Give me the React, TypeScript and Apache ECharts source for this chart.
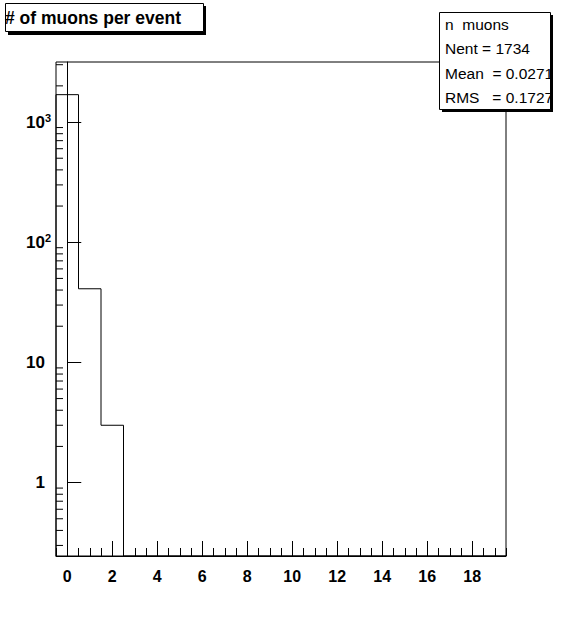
import React, { useEffect, useRef } from "react";
import * as echarts from "echarts";

// ---- data ----
const BIN_CENTERS = [0, 1, 2, 3, 4, 5, 6, 7, 8, 9, 10, 11, 12, 13, 14, 15, 16, 17, 18, 19];
const COUNTS = [1690, 41, 3, 0, 0, 0, 0, 0, 0, 0, 0, 0, 0, 0, 0, 0, 0, 0, 0, 0];
const X_LABELS = [0, 2, 4, 6, 8, 10, 12, 14, 16, 18];
const Y_MINOR_TICKS = [
  0.3, 0.4, 0.5, 0.6, 0.7, 0.8, 0.9,
  2, 3, 4, 5, 6, 7, 8, 9,
  20, 30, 40, 50, 60, 70, 80, 90,
  200, 300, 400, 500, 600, 700, 800, 900,
  2000, 3000,
];
const TITLE = "# of muons per event";
const HIST_NAME = "n  muons";
const N_ENT = "1734";
const MEAN = "0.0271";
const RMS = "0.1727";

const X_MIN = -0.5;
const X_MAX = 19.5;
const Y_MIN = 0.245;
const Y_MAX = 3160;

const FONT = "'Liberation Sans', Arial, Helvetica, sans-serif";
const NB = "\u00a0";

function stepPoints(): number[][] {
  const pts: number[][] = [[X_MIN, Y_MIN]];
  BIN_CENTERS.forEach((c, i) => {
    const v = Math.max(COUNTS[i], Y_MIN);
    pts.push([c - 0.5, v], [c + 0.5, v]);
  });
  pts.push([X_MAX, Y_MIN]);
  return pts;
}

export default function App() {
  const ref = useRef<HTMLDivElement>(null);
  useEffect(() => {
    if (!ref.current) return;
    const chart = echarts.init(ref.current, undefined, { renderer: "svg" });
    const statLines = [
      HIST_NAME.replace(/ /g, NB),
      `Nent = ${N_ENT}`.replace(/ /g, NB),
      `Mean  = ${MEAN}`.replace(/ /g, NB),
      `RMS   = ${RMS}`.replace(/ /g, NB),
    ];
    const statY = [24, 48, 73, 97];
    chart.setOption({
      animation: false,
      backgroundColor: "#fff",
      grid: {
        left: 56,
        top: 62,
        width: 450,
        height: 494,
        show: true,
        borderColor: "#000",
        borderWidth: 1,
        backgroundColor: "transparent",
      },
      xAxis: [
        {
          type: "value",
          min: X_MIN,
          max: X_MAX,
          position: "bottom",
          axisLine: { show: true, lineStyle: { color: "#000", width: 1 } },
          axisTick: { show: true, inside: true, length: 15, customValues: X_LABELS, lineStyle: { color: "#000" } },
          axisLabel: {
            customValues: X_LABELS,
            color: "#000",
            fontFamily: FONT,
            fontWeight: "bold",
            fontSize: 16,
            margin: 12,
          },
          splitLine: { show: false },
        },
        {
          type: "value",
          min: X_MIN,
          max: X_MAX,
          interval: 0.5,
          position: "bottom",
          axisLine: { show: false },
          axisTick: { show: true, inside: true, length: 8, lineStyle: { color: "#000" } },
          axisLabel: { show: false },
          splitLine: { show: false },
        },
      ],
      yAxis: {
        type: "log",
        logBase: 10,
        min: Y_MIN,
        max: Y_MAX,
        axisLine: { show: true, lineStyle: { color: "#000", width: 1 } },
        axisTick: { show: true, inside: true, length: 14, lineStyle: { color: "#000" } },
        axisLabel: {
          showMinLabel: false,
          showMaxLabel: false,
          margin: 5,
          color: "#000",
          formatter: (v: number) => {
            const e = Math.round(Math.log10(v));
            if (e <= 1) return `{p|${e === 0 ? "1" : "10"}}`;
            return `{n|10}{s|${e}}`;
          },
          rich: {
            n: { fontFamily: FONT, fontWeight: "bold", fontSize: 17, color: "#000", lineHeight: 20 },
            p: { fontFamily: FONT, fontWeight: "bold", fontSize: 17, color: "#000", lineHeight: 20, padding: [0, 6, 0, 0] },
            s: { fontFamily: FONT, fontWeight: "bold", fontSize: 11, color: "#000", verticalAlign: "top", lineHeight: 12 },
          },
        },
        splitLine: { show: false },
      },
      series: [
        {
          type: "line",
          xAxisIndex: 0,
          data: stepPoints(),
          symbol: "none",
          lineStyle: { color: "#000", width: 1 },
          silent: true,
        },
        {
          type: "custom",
          coordinateSystem: "cartesian2d",
          xAxisIndex: 0,
          yAxisIndex: 0,
          silent: true,
          clip: false,
          data: Y_MINOR_TICKS.map((v) => [X_MIN, v]),
          renderItem: (params: any, api: any) => {
            const p = api.coord([X_MIN, api.value(1)]);
            return {
              type: "line",
              shape: { x1: p[0], y1: p[1], x2: p[0] + 7, y2: p[1] },
              style: { stroke: "#000", lineWidth: 1 },
            };
          },
        },
      ],
      graphic: [
        { type: "rect", left: 8, top: 6, shape: { width: 198, height: 29 }, style: { fill: "#000" }, z: 100 },
        { type: "rect", left: 5, top: 3, shape: { width: 198, height: 28 }, style: { fill: "#fff", stroke: "#000", lineWidth: 1 }, z: 101 },
        {
          type: "text",
          x: 5,
          y: 18,
          z: 102,
          style: {
            text: TITLE,
            fill: "#000",
            font: `bold 17.5px ${FONT}`,
            verticalAlign: "middle",
          },
        },
        { type: "rect", left: 442, top: 15, shape: { width: 111, height: 97 }, style: { fill: "#000" }, z: 100 },
        { type: "rect", left: 439, top: 12, shape: { width: 111, height: 97 }, style: { fill: "#fff", stroke: "#000", lineWidth: 1 }, z: 101 },
        ...statLines.map((t, i) => ({
          type: "text",
          x: 445,
          y: statY[i],
          z: 102,
          style: {
            text: t,
            fill: "#000",
            font: `15.5px ${FONT}`,
            verticalAlign: "middle",
          },
        })),
      ],
    });
    return () => chart.dispose();
  }, []);
  return <div ref={ref} style={{ width: 563, height: 618, position: "absolute", left: 0, top: 0 }} />;
}
